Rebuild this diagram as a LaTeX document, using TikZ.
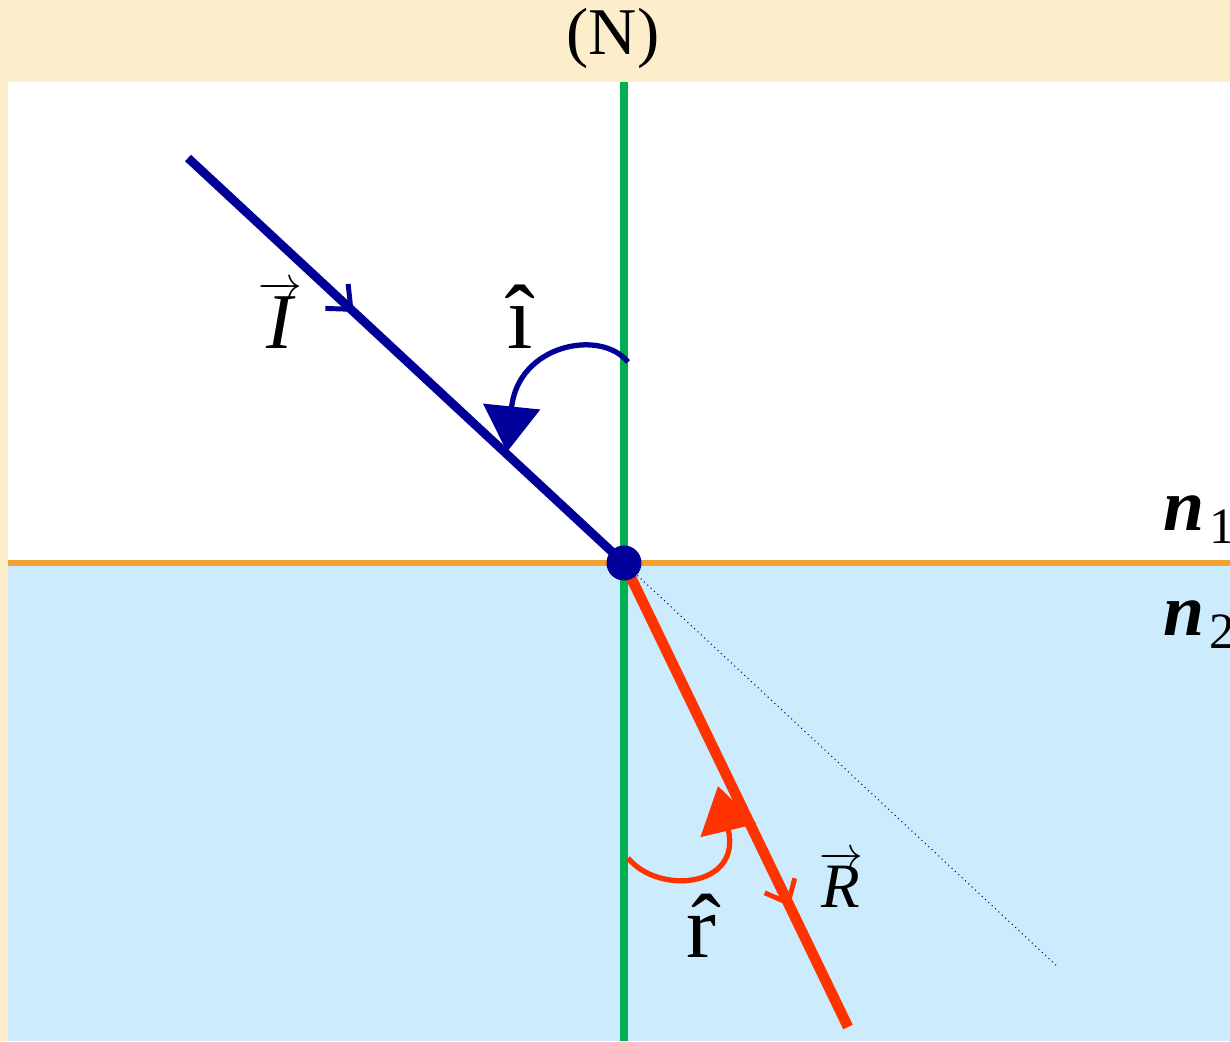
\documentclass[tikz,border=0pt]{standalone}
\usepackage{fontspec}
\setmainfont{Liberation Serif}
\usetikzlibrary{arrows.meta,decorations.markings}
\definecolor{bandbeige}{HTML}{FCEECB}
\definecolor{waterblue}{HTML}{CCECFD}
\definecolor{normalgreen}{HTML}{00B050}
\definecolor{facecolor}{HTML}{F0A232}
\definecolor{incblue}{HTML}{000099}
\definecolor{refrred}{HTML}{FF3300}
\newcommand{\subidx}[1]{\hspace{3pt}{\fontsize{29}{30}\selectfont\raisebox{-7.5pt}{#1}}}

\begin{document}
\begin{tikzpicture}[
  x=0.02cm, y=-0.02cm,
  midarrow/.style={postaction={decorate}, decoration={markings, mark=at position #1 with {\arrow{Straight Barb[length=11pt, width=19pt, line width=2.8pt]}}}},
  anglearc/.style={line width=3pt, -{Triangle[length=26pt, width=32pt]}},
  lbl/.style={inner sep=0pt, anchor=base}
]
\useasboundingbox (0,0) rectangle (1230,1041);
\clip (0,0) rectangle (1230,1041);
% media
\fill[bandbeige] (0,0) rectangle (1230,1041);
\fill[white] (8,82) rectangle (1230,563);
\fill[waterblue] (8,563) rectangle (1230,1041);
\coordinate (inc) at (624,563);
\coordinate (src) at (188,158);
\coordinate (refr) at (848,1027);
\coordinate (ghost) at (1058,967);
\coordinate (ntop) at (624,82);
\coordinate (nbot) at (624,1041);
\coordinate (sleft) at (8,563);
\coordinate (sright) at (1230,563);
\draw[facecolor, line width=3.4pt] (sleft) -- (sright);
\draw[normalgreen, line width=5pt] (ntop) -- (nbot);
\draw[incblue, line width=0.6pt, dotted] (inc) -- (ghost);
% rays
\draw[incblue, line width=5pt, midarrow=0.38] (src) -- (inc);
\draw[refrred, line width=6pt, midarrow=0.74] (inc) -- (refr);
\fill[incblue] (inc) circle (17.5);
% angles
\coordinate (iarc0) at (628,362);
\coordinate (iarc1) at (507,452);
\draw[anglearc, incblue] (iarc0) .. controls (600,328) and (518,345) .. (iarc1);
\coordinate (rarc0) at (628,858);
\coordinate (rarc1) at (718,786);
\draw[anglearc, refrred] (rarc0) .. controls (658,895) and (742,888) .. (rarc1);
% labels
\node[lbl, font=\fontsize{38}{40}\selectfont] (normal) at (613,54) {(N)};
\node[lbl, font=\fontsize{45}{48}\selectfont] (vecI) at (280,348) {$\overrightarrow{\textit{I}}$};
\node[lbl, font=\fontsize{36}{40}\selectfont] (vecR) at (841,907) {$\overrightarrow{\textit{R}}$};
\node[lbl, font=\fontsize{52}{56}\selectfont] (angi) at (520,348) {\^{\i}};
\node[lbl, font=\fontsize{51}{56}\selectfont] (angr) at (701,957) {\^{r}};
\node[lbl, anchor=base west, font=\fontsize{42}{44}\selectfont] (n1) at (1163,530) {\textbf{\textit{n}}\subidx{1}};
\node[lbl, anchor=base west, font=\fontsize{42}{44}\selectfont] (n2) at (1163,635) {\textbf{\textit{n}}\subidx{2}};
\end{tikzpicture}
\end{document}
